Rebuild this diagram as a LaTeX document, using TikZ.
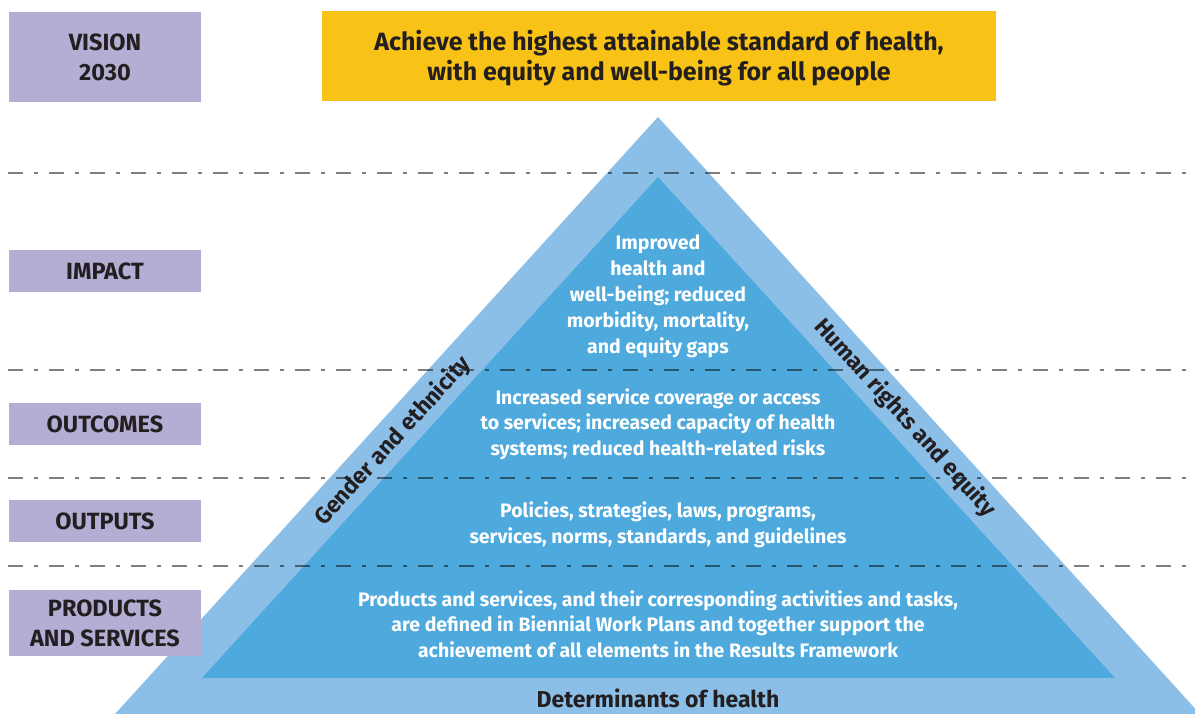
\documentclass[tikz,border=0pt]{standalone}
\usepackage{fontspec}
\setmainfont{Fira Sans}
\usepackage{tikz}
\definecolor{levelbox}{HTML}{B4AED5}
\definecolor{visionbox}{HTML}{F8C316}
\definecolor{outerblue}{HTML}{8CBFE7}
\definecolor{innerblue}{HTML}{4EA9DD}
\definecolor{darktext}{HTML}{231F20}
\tikzset{
  level/.style={fill=levelbox,text=darktext,font=\fontsize{23.5}{30}\selectfont\bfseries,
    align=center,minimum width=192pt,inner sep=0pt},
  body/.style={text=white,font=\fontsize{19.5}{25.5}\selectfont\bfseries,align=center},
  band/.style={text=darktext,font=\fontsize{23}{25}\selectfont\bfseries},
  divider/.style={black,opacity=0.5,line width=2pt,
    dash pattern=on 15pt off 11pt on 4pt off 11pt}
}

\begin{document}
\begin{tikzpicture}[x=1pt,y=-1pt]
  \useasboundingbox (0,0) rectangle (1195,714);

  %pyramid corners
  \coordinate (otop) at (658,117);
  \coordinate (oleft) at (115,714);
  \coordinate (oright) at (1200,714);
  \coordinate (itop) at (658,177);
  \coordinate (ileft) at (202,678);
  \coordinate (iright) at (1115,678);
  \fill[outerblue] (otop) -- (oleft) -- (oright) -- cycle;
  \fill[innerblue] (itop) -- (ileft) -- (iright) -- cycle;

  %level dividers
  \foreach \y in {173,370,478,566} {
    \draw[divider] (8,\y) -- (1195,\y);
  }

  %level labels
  \node[level,minimum height=90pt] (vision) at (105,57) {VISION\\2030};
  \node[level,minimum height=42pt] (impact) at (105,271) {IMPACT};
  \node[level,minimum height=42pt] (outcomes) at (105,424) {OUTCOMES};
  \node[level,minimum height=42pt] (outputs) at (105,521) {OUTPUTS};
  \node[level,minimum height=66pt] (products) at (105,623) {PRODUCTS\\AND SERVICES};

  %vision statement
  \fill[visionbox] (322,11) rectangle (996,101);
  \node[text=darktext,font=\fontsize{25}{30}\selectfont\bfseries,align=center,inner sep=0pt]
    (goal) at (659,58) {Achieve the highest attainable standard of health,\\
    with equity and well-being for all people};

  %pyramid texts
  \node[body,font=\fontsize{19.5}{26}\selectfont\bfseries] (impacttext) at (658,296)
    {Improved\\health and\\well-being; reduced\\morbidity, mortality,\\and equity gaps};
  \node[body] (outcomestext) at (658,424) {Increased service coverage or access\\
    to services; increased capacity of health\\systems; reduced health-related risks};
  \node[body] (outputstext) at (658,525) {Policies, strategies, laws, programs,\\
    services, norms, standards, and guidelines};
  \node[body] (productstext) at (658,624) {Products and services, and their corresponding activities and tasks,\\
    are defined in Biennial Work Plans and together support the\\
    achievement of all elements in the Results Framework};

  %band texts
  \node[band,rotate=47.7] (gender) at (393,441) {Gender and ethnicity};
  \node[band,rotate=-47.7] (rights) at (905,418) {Human rights and equity};
  \node[band] (determinants) at (658,698) {Determinants of health};
\end{tikzpicture}
\end{document}
